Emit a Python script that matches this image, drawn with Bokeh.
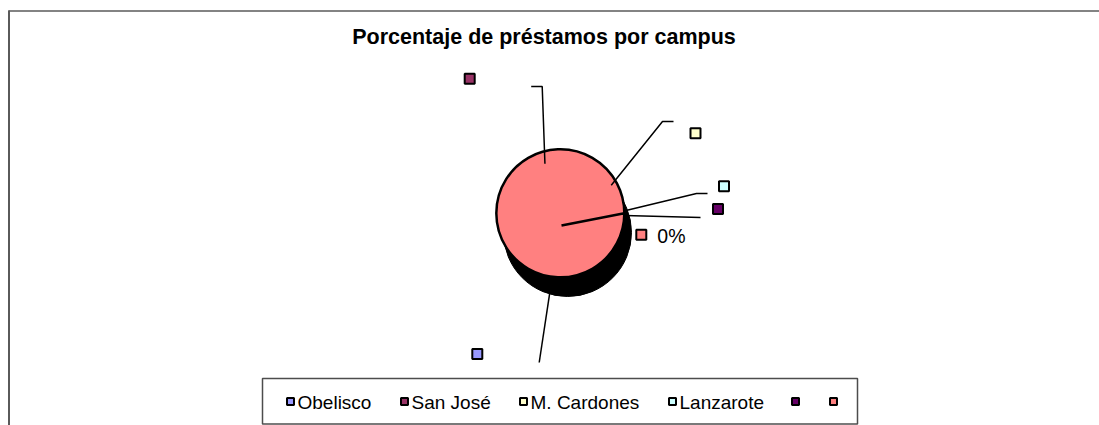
import math
from bokeh.plotting import figure
from bokeh.models import Range1d, ColumnDataSource
from bokeh.core.properties import value
from bokeh.embed import file_html
from bokeh.resources import INLINE

# ---------------- data ----------------
title_text = "Porcentaje de préstamos por campus"
categories = ["Obelisco", "San José", "M. Cardones", "Lanzarote", "", ""]
values = [0, 0, 0, 0, 0, 1]
data_labels = ["", "", "", "", "", "0%"]
colors = ["#9999FF", "#993366", "#FFFFCC", "#CCFFFF", "#660066", "#FF8080"]

# ---------------- layout (picture pixels) ----------------
W, H = 1099, 425
CX, CY, R = 561, 225, 64
SHADOW_DX, SHADOW_DY = 6, 7
FIRST_ANGLE_DEG = 11  # boundary of the first slice, CCW from 3 o'clock

# per-category label layout: edge angle (deg), leader bend points, marker centre
label_edge_angle = [-100, 105, 39, 13, 9, None]
label_leader = [
    [(538.7, 362)],
    [(541.7, 86), (530.7, 86)],
    [(662, 121), (673, 121)],
    [(696, 193), (707, 193)],
    [(700, 217)],
    [],
]
label_marker = [(476.8, 353.5), (469.2, 78.3), (695, 132.7), (723.5, 185.7),
                (717.5, 208.5), (640.8, 234.2)]
legend_marker_x = [290, 404, 523, 672, 795, 833]
LEGEND_Y = 401
LEGEND_BOX = (262, 378, 857, 423.5)

p = figure(width=W, height=H, output_backend="svg", toolbar_location=None,
           x_range=Range1d(0, W), y_range=Range1d(H, 0),
           x_axis_location=None, y_axis_location=None, min_border=0)
p.grid.visible = False
p.outline_line_color = None
p.background_fill_color = "white"
p.border_fill_color = "white"

# chart border (cropped at the right and the bottom)
p.line(x=[8.5, 8.5], y=[10, 600], line_color="#5a5a5a", line_width=2)
p.line(x=[8, 1200], y=[10.5, 10.5], line_color="#5a5a5a", line_width=1.5)

# title
p.text(x=[543.5], y=[36], text=[title_text], text_font=value("Liberation Sans"),
       text_font_style="bold", text_font_size="21.5px", text_align="center",
       text_baseline="middle", text_color="black")

# pie wedges computed from values (Excel: clockwise from first angle)
total = float(sum(values))
starts, ends, wcolors = [], [], []
cum = 0.0
base = math.radians(FIRST_ANGLE_DEG)
for v, c in zip(values, colors):
    a0 = base - 2 * math.pi * cum / total
    cum += v
    a1 = base - 2 * math.pi * cum / total
    if v > 0:
        starts.append(a0)
        ends.append(a1)
        wcolors.append(c)

src = ColumnDataSource(dict(start=starts, end=ends, color=wcolors,
                            x=[CX] * len(starts), y=[CY] * len(starts)))
# shadow
p.circle(x=[CX + SHADOW_DX], y=[CY + SHADOW_DY], radius=R, radius_units="screen",
         fill_color="black", line_color="black")
p.wedge(x="x", y="y", radius=R, radius_units="screen", start_angle="start",
        end_angle="end", direction="clock", fill_color="color",
        line_color="black", line_width=2.5, source=src)

# leader lines
for i, ang in enumerate(label_edge_angle):
    if ang is None or not label_leader[i]:
        continue
    ex = CX + R * math.cos(math.radians(ang))
    ey = CY - R * math.sin(math.radians(ang))
    xs = [ex] + [pt[0] for pt in label_leader[i]]
    ys = [ey] + [pt[1] for pt in label_leader[i]]
    p.line(x=xs, y=ys, line_color="black", line_width=1.5)

# data label markers + texts
p.scatter(x=[m[0] for m in label_marker], y=[m[1] for m in label_marker],
          marker="square", size=10, fill_color=colors, line_color="black", line_width=2)
p.text(x=[m[0] + 16 for m in label_marker], y=[m[1] + 1 for m in label_marker],
       text=data_labels, text_font=value("Liberation Sans"), text_font_size="19.5px",
       text_baseline="middle", text_color="black")

# legend box
lx0, ly0, lx1, ly1 = LEGEND_BOX
p.quad(left=[lx0], right=[lx1], top=[ly0], bottom=[ly1], fill_color="white",
       line_color="#4d4d4d", line_width=1.5)
p.scatter(x=legend_marker_x, y=[LEGEND_Y] * len(categories), marker="square",
          size=7, fill_color=colors, line_color="black", line_width=2)
p.text(x=[x + 7 for x in legend_marker_x], y=[LEGEND_Y + 1] * len(categories),
       text=categories, text_font=value("Liberation Sans"), text_font_size="19px",
       text_baseline="middle", text_color="black")

open("out.html", "w").write(file_html(p, INLINE))
